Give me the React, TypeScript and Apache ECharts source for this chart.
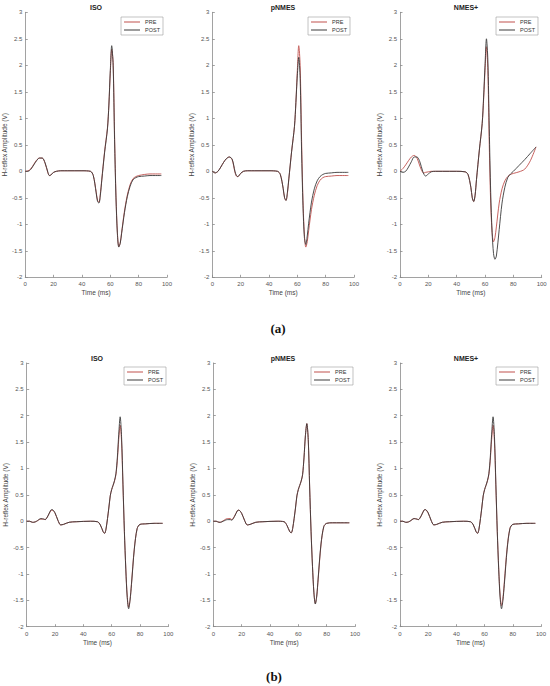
import React, { useEffect, useRef } from "react";
import * as echarts from "echarts";

// Time grids (ms)
const TA = [0, 2, 4, 6, 8, 10, 12, 14, 16, 17, 18, 20, 22, 25, 30, 40, 46, 48, 50, 51, 52, 53, 54, 56, 58, 59, 60, 61, 62, 63, 64, 65, 66, 67, 68, 70, 72, 74, 76, 78, 80, 84, 88, 92, 96];
const TB = [0, 2, 4, 5, 7, 10, 12, 13, 15, 17, 18, 20, 22, 24, 26, 30, 35, 45, 50, 52, 54, 55, 56, 58, 59, 60, 61, 62, 63, 64, 65, 66, 67, 68, 69, 70, 71, 72, 73, 74, 76, 78, 80, 84, 90, 96];

// (a) ISO
const A_ISO_PRE = [0, 0.01, 0.05, 0.13, 0.21, 0.25, 0.25, 0.15, -0.03, -0.08, -0.07, -0.02, 0, 0.01, 0.01, 0.01, 0, -0.08, -0.38, -0.55, -0.58, -0.42, -0.15, 0.38, 0.82, 1.25, 1.85, 2.3, 2.05, 0.7, -0.45, -1.15, -1.42, -1.35, -1.15, -0.75, -0.45, -0.25, -0.14, -0.1, -0.08, -0.06, -0.05, -0.05, -0.05];
const A_ISO_POST = [0, 0, 0.04, 0.12, 0.2, 0.25, 0.25, 0.16, -0.02, -0.08, -0.07, -0.02, 0, 0.01, 0.01, 0.01, 0, -0.08, -0.4, -0.57, -0.6, -0.45, -0.17, 0.36, 0.8, 1.25, 1.9, 2.37, 2.0, 0.6, -0.5, -1.18, -1.43, -1.36, -1.17, -0.78, -0.48, -0.28, -0.16, -0.12, -0.1, -0.09, -0.08, -0.08, -0.08];
// (a) pNMES
const A_PNMES_PRE = [0, -0.03, 0, 0.08, 0.17, 0.24, 0.27, 0.22, -0.02, -0.09, -0.1, -0.04, 0, 0.01, 0.01, 0.01, 0, -0.06, -0.32, -0.5, -0.55, -0.42, -0.15, 0.38, 0.85, 1.3, 1.9, 2.37, 2.0, 0.6, -0.55, -1.2, -1.43, -1.33, -1.12, -0.72, -0.45, -0.27, -0.17, -0.12, -0.1, -0.09, -0.08, -0.08, -0.08];
const A_PNMES_POST = [0, -0.03, 0, 0.08, 0.17, 0.24, 0.27, 0.23, 0, -0.08, -0.1, -0.04, 0, 0.01, 0.01, 0.01, 0, -0.06, -0.32, -0.5, -0.55, -0.4, -0.14, 0.38, 0.85, 1.3, 1.8, 2.15, 1.75, 0.4, -0.65, -1.25, -1.38, -1.22, -0.98, -0.58, -0.33, -0.18, -0.1, -0.06, -0.04, -0.03, -0.02, -0.02, -0.02];
// (a) NMES+
const A_NMESP_PRE = [0, 0.05, 0.12, 0.2, 0.27, 0.3, 0.25, 0.1, -0.02, -0.03, -0.02, -0.01, 0, 0, 0, 0, -0.01, -0.06, -0.3, -0.5, -0.57, -0.45, -0.15, 0.4, 0.9, 1.35, 1.9, 2.35, 1.9, 0.5, -0.6, -1.15, -1.33, -1.25, -1.05, -0.6, -0.33, -0.18, -0.1, -0.06, -0.04, -0.01, 0.04, 0.2, 0.46];
const A_NMESP_POST = [0, -0.02, 0, 0.08, 0.18, 0.27, 0.27, 0.18, 0, -0.06, -0.09, -0.05, -0.01, 0, 0, 0, -0.01, -0.06, -0.3, -0.5, -0.57, -0.45, -0.15, 0.4, 0.9, 1.4, 2.0, 2.5, 2.1, 0.8, -0.4, -1.15, -1.55, -1.66, -1.6, -1.1, -0.6, -0.3, -0.12, -0.05, 0, 0.11, 0.22, 0.34, 0.46];

// (b) ISO
const B_ISO_PRE = [0, 0, -0.02, -0.02, 0, 0.04, 0.04, 0.03, 0.1, 0.2, 0.21, 0.15, 0.02, -0.07, -0.06, -0.02, -0.01, 0, -0.01, -0.07, -0.2, -0.23, -0.15, 0.25, 0.48, 0.6, 0.68, 0.76, 0.88, 1.15, 1.55, 1.82, 1.5, 0.65, -0.2, -0.9, -1.42, -1.63, -1.48, -1.18, -0.52, -0.14, -0.06, -0.05, -0.04, -0.04];
const B_ISO_POST = [0, 0, -0.02, -0.02, 0, 0.05, 0.04, 0.03, 0.1, 0.21, 0.22, 0.16, 0.02, -0.07, -0.06, -0.02, -0.01, 0, -0.01, -0.07, -0.2, -0.23, -0.15, 0.25, 0.48, 0.6, 0.68, 0.77, 0.9, 1.2, 1.65, 1.98, 1.6, 0.7, -0.2, -0.92, -1.45, -1.66, -1.5, -1.2, -0.53, -0.14, -0.06, -0.05, -0.04, -0.04];
// (b) pNMES
const B_PNMES_PRE = [0, 0, -0.02, -0.02, 0.01, 0.05, 0.05, 0.03, 0.1, 0.2, 0.21, 0.15, 0.02, -0.07, -0.06, -0.02, -0.01, 0, -0.01, -0.08, -0.2, -0.22, -0.14, 0.25, 0.48, 0.6, 0.68, 0.76, 0.88, 1.2, 1.62, 1.85, 1.55, 0.65, -0.2, -0.85, -1.35, -1.56, -1.42, -1.1, -0.45, -0.1, -0.04, -0.03, -0.03, -0.03];
const B_PNMES_POST = [0, 0, -0.02, -0.02, 0, 0.03, 0.03, 0.02, 0.09, 0.2, 0.21, 0.15, 0.02, -0.07, -0.06, -0.02, -0.01, 0, -0.01, -0.08, -0.2, -0.22, -0.14, 0.25, 0.48, 0.6, 0.68, 0.76, 0.88, 1.2, 1.62, 1.85, 1.55, 0.65, -0.2, -0.86, -1.36, -1.57, -1.42, -1.08, -0.43, -0.1, -0.04, -0.03, -0.03, -0.03];
// (b) NMES+
const B_NMESP_PRE = [0, 0, -0.02, -0.02, 0, 0.05, 0.04, 0.03, 0.1, 0.21, 0.22, 0.15, 0.02, -0.07, -0.06, -0.02, -0.01, 0, -0.01, -0.07, -0.2, -0.23, -0.15, 0.25, 0.48, 0.6, 0.68, 0.76, 0.88, 1.15, 1.55, 1.82, 1.5, 0.65, -0.2, -0.88, -1.4, -1.6, -1.46, -1.15, -0.5, -0.13, -0.06, -0.05, -0.04, -0.04];
const B_NMESP_POST = [0, 0, -0.02, -0.02, 0, 0.05, 0.04, 0.03, 0.1, 0.21, 0.22, 0.16, 0.02, -0.07, -0.06, -0.02, -0.01, 0, -0.01, -0.07, -0.2, -0.23, -0.15, 0.25, 0.48, 0.6, 0.68, 0.77, 0.9, 1.2, 1.65, 1.98, 1.6, 0.7, -0.2, -0.92, -1.45, -1.66, -1.5, -1.2, -0.53, -0.14, -0.06, -0.05, -0.04, -0.04];

const TITLES = ["ISO", "pNMES", "NMES+", "ISO", "pNMES", "NMES+"];
const SERIES_NAMES = ["PRE", "POST"];
const CAPTIONS = ["(a)", "(b)"];
const X_NAME = "Time (ms)";
const Y_NAME = "H-reflex Amplitude (V)";

const PRE_COLOR = "#c0504d";
const POST_COLOR = "#3a3a3a";
const FONT = "'Liberation Sans', Arial, sans-serif";

const panels = [
  { t: TA, pre: A_ISO_PRE, post: A_ISO_POST, left: 25, top: 12.3, width: 142, height: 265, lr: 387, lt: 17, tx: 96, ty: 7.5, ng: 15 },
  { t: TA, pre: A_PNMES_PRE, post: A_PNMES_POST, left: 212.3, top: 12.3, width: 141.7, height: 265, lr: 200, lt: 17, tx: 283, ty: 7.5, ng: 14 },
  { t: TA, pre: A_NMESP_PRE, post: A_NMESP_POST, left: 400, top: 12.3, width: 141.7, height: 265, lr: 12, lt: 17, tx: 466, ty: 7.5, ng: 15 },
  { t: TB, pre: B_ISO_PRE, post: B_ISO_POST, left: 26.7, top: 363, width: 141.6, height: 263.7, lr: 384, lt: 367, tx: 97, ty: 358.5, ng: 14 },
  { t: TB, pre: B_PNMES_PRE, post: B_PNMES_POST, left: 213.3, top: 363, width: 141.7, height: 263.7, lr: 197, lt: 367, tx: 283, ty: 358.5, ng: 14 },
  { t: TB, pre: B_NMESP_PRE, post: B_NMESP_POST, left: 400, top: 363, width: 141, height: 263.7, lr: 12, lt: 367, tx: 466, ty: 358.5, ng: 15 },
];

const zip = (t: number[], v: number[]) => t.map((x, i) => [x, v[i]]);

export default function App() {
  const ref = useRef<HTMLDivElement>(null);
  useEffect(() => {
    if (!ref.current) return;
    const chart = echarts.init(ref.current, undefined, { renderer: "svg" });
    const axisLine = { onZero: false, lineStyle: { color: "#8a8a8a", width: 0.8 } };
    const axisTick = { inside: true, length: 2.5, lineStyle: { color: "#8a8a8a", width: 0.8 } };
    const option: any = {
      animation: false,
      backgroundColor: "#ffffff",
      textStyle: { fontFamily: FONT },
      grid: panels.map((p) => ({ left: p.left, top: p.top, width: p.width, height: p.height })),
      xAxis: panels.map((p, i) => ({
        gridIndex: i,
        type: "value",
        min: 0,
        max: 100,
        interval: 20,
        name: X_NAME,
        nameLocation: "middle",
        nameGap: 12,
        nameTextStyle: { fontSize: 6.5, color: "#444", fontFamily: FONT },
        axisLine,
        axisTick,
        axisLabel: { fontSize: 6, color: "#555", margin: 4, fontFamily: FONT },
        splitLine: { show: false },
      })),
      yAxis: panels.map((p, i) => ({
        gridIndex: i,
        type: "value",
        min: -2,
        max: 3,
        interval: 0.5,
        name: Y_NAME,
        nameLocation: "middle",
        nameGap: p.ng,
        nameTextStyle: { fontSize: 6.5, color: "#444", fontFamily: FONT },
        axisLine,
        axisTick,
        axisLabel: { fontSize: 6, color: "#555", margin: 3, fontFamily: FONT },
        splitLine: { show: false },
      })),
      legend: panels.map((p) => ({
        data: SERIES_NAMES.map((n, k) => ({ name: n, icon: "rect", itemStyle: { color: k === 0 ? PRE_COLOR : POST_COLOR } })),
        orient: "vertical",
        right: p.lr,
        top: p.lt,
        itemWidth: 16,
        itemHeight: 1,
        itemGap: 2,
        padding: [2, 3, 2, 3],
        borderColor: "#9a9a9a",
        borderWidth: 0.6,
        backgroundColor: "#fff",
        selectedMode: false,
        textStyle: { fontSize: 5.5, color: "#333", fontFamily: FONT, lineHeight: 6 },
      })),
      series: panels.flatMap((p, i) => [
        {
          type: "line",
          name: SERIES_NAMES[0],
          xAxisIndex: i,
          yAxisIndex: i,
          data: zip(p.t, p.pre),
          symbol: "none",
          smooth: 0.3,
          lineStyle: { color: PRE_COLOR, width: 0.9 },
          itemStyle: { color: PRE_COLOR },
        },
        {
          type: "line",
          name: SERIES_NAMES[1],
          xAxisIndex: i,
          yAxisIndex: i,
          data: zip(p.t, p.post),
          symbol: "none",
          smooth: 0.3,
          lineStyle: { color: POST_COLOR, width: 0.9 },
          itemStyle: { color: POST_COLOR },
        },
      ]),
      graphic: [
        ...panels.map((p, i) => ({
          type: "text",
          x: p.tx,
          y: p.ty,
          style: {
            text: TITLES[i],
            font: `bold 7px ${FONT}`,
            fill: "#222",
            align: "center",
            verticalAlign: "middle",
            textAlign: "center",
            textVerticalAlign: "middle",
          },
        })),
        {
          type: "text",
          x: 278,
          y: 328,
          style: { text: CAPTIONS[0], font: "bold 13px 'Liberation Serif', serif", fill: "#111", align: "center", verticalAlign: "middle", textAlign: "center", textVerticalAlign: "middle" },
        },
        {
          type: "text",
          x: 274,
          y: 676,
          style: { text: CAPTIONS[1], font: "bold 13px 'Liberation Serif', serif", fill: "#111", align: "center", verticalAlign: "middle", textAlign: "center", textVerticalAlign: "middle" },
        },
      ],
    };
    chart.setOption(option);
    return () => chart.dispose();
  }, []);
  return <div ref={ref} style={{ position: "absolute", left: 0, top: 0, width: 550, height: 686, background: "#fff" }} />;
}
